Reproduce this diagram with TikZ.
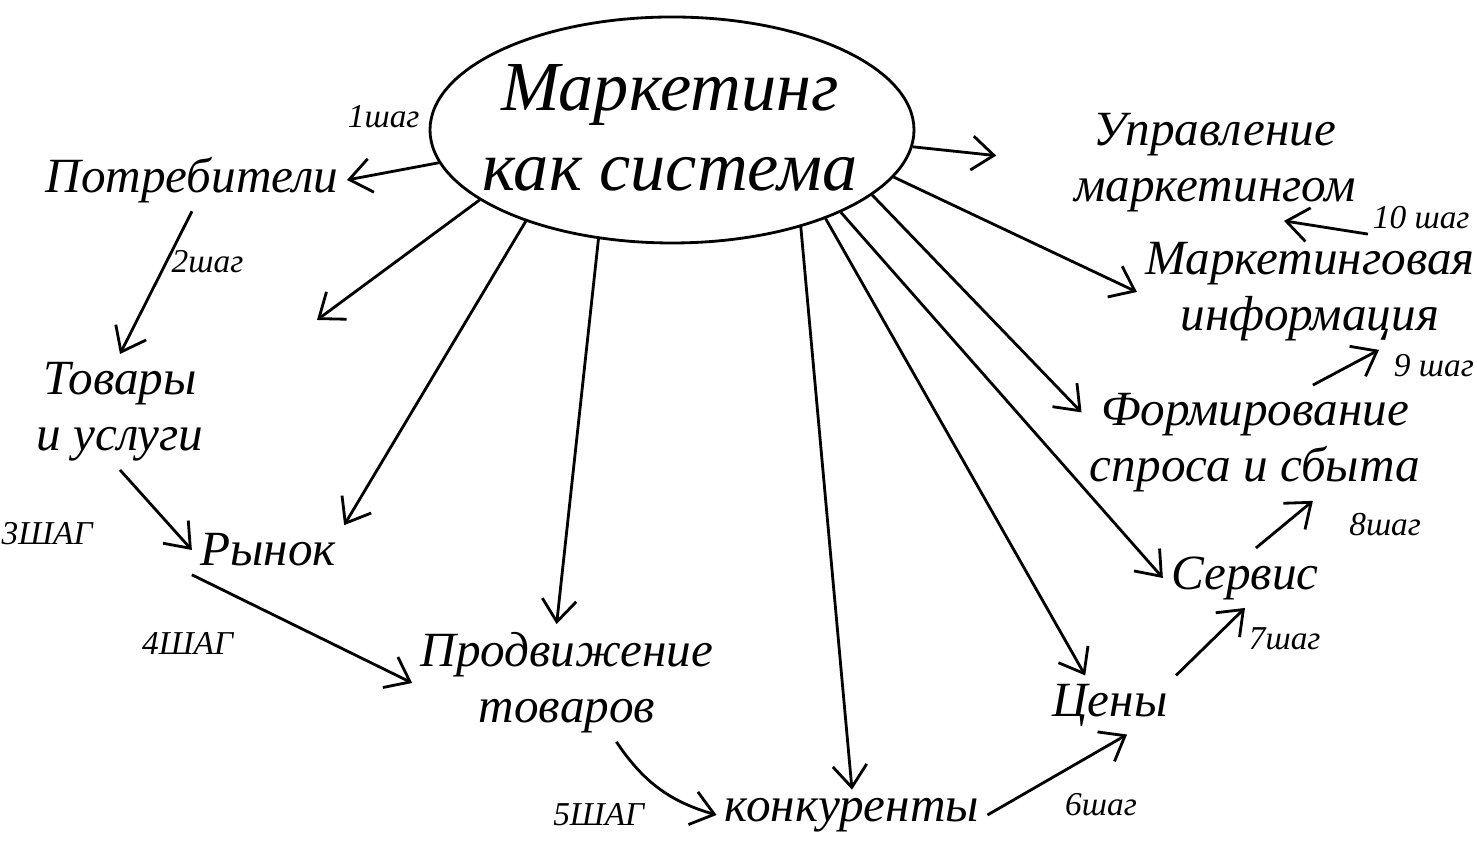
\documentclass[tikz,border=0pt]{standalone}
\usepackage{fontspec}
\setmainfont{Liberation Serif}
\usetikzlibrary{arrows.meta,shapes.geometric}

\begin{document}
\begin{tikzpicture}[->,>={Straight Barb[length=2.2mm,width=3.4mm]},thick,
main node/.style={font=\fontsize{14}{16}\selectfont\itshape,align=center,inner sep=2pt},
step node/.style={font=\fontsize{9.5}{11}\selectfont\itshape,inner sep=1pt},
cloud node/.style={ellipse,draw,minimum width=4.84cm,minimum height=2.26cm}]

\useasboundingbox (0,0) rectangle (14.77,8.58);

\node[cloud node] (mks) at (6.72,7.28) {};
\node[font=\fontsize{20}{23}\selectfont\itshape,align=center] (mkstxt) at (6.70,7.30) {Маркетинг\\как система};

\node[main node] (potr) at (1.92,6.78) {Потребители};
\node[main node] (tov) at (1.20,4.46) {Товары\\и услуги};
\node[main node] (rynok) at (2.68,3.08) {Рынок};
\node[main node] (prod) at (5.67,1.75) {Продвижение\\товаров};
\node[main node] (konk) at (8.52,0.43) {конкуренты};
\node[main node] (tseny) at (11.10,1.53) {Цены};
\node[main node] (servis) at (12.45,2.80) {Сервис};
\node[main node] (form) at (12.55,4.15) {Формирование\\спроса и сбыта};
\node[main node] (minf) at (13.10,5.66) {Маркетинговая\\информация};
\node[main node] (upr) at (12.15,6.95) {Управление\\маркетингом};
\coordinate (c2) at (3.17,5.38);

% from the cloud
\path
(mks.188) edge node[step node,above=4mm,pos=0.6] {1шаг} (potr.east)
(mks.200) edge (c2)
(mks.212) edge (rynok.north east)
(mks.236) edge (prod.100)
(mks.323) edge (konk.north)
(mks.330) edge (tseny.130)
(mks.334) edge (servis.west)
(mks.342) edge (form.170)
(mks.348) edge (minf.west)
(mks.356) edge[shorten >=7mm] (upr.west);

% step by step
\path
(potr.south) edge node[step node,right,pos=0.35] {2шаг} (tov.north)
(tov.south) edge node[step node,left=8mm,pos=0.8] {3ШАГ} (rynok.west)
(rynok.south west) edge node[step node,below left=2mm,pos=0.3] {4ШАГ} (prod.west)
(prod.-50) edge[bend right=20] node[step node,below left=1mm,pos=0.5] {5ШАГ} (konk.west)
(konk.east) edge node[step node,below right=1mm,pos=0.45] {6шаг} (tseny.-60)
(tseny.north east) edge node[step node,right=3mm,pos=0.55] {7шаг} (servis.south)
(servis.70) edge node[step node,right=6mm,pos=0.5] {8шаг} (form.-45)
(form.45) edge node[step node,anchor=west,xshift=1mm,yshift=-1.6mm,pos=1] {9 шаг} (minf.-40)
(minf.45) edge node[step node,above right,pos=0] {10 шаг} (upr.-40);

\end{tikzpicture}
\end{document}
